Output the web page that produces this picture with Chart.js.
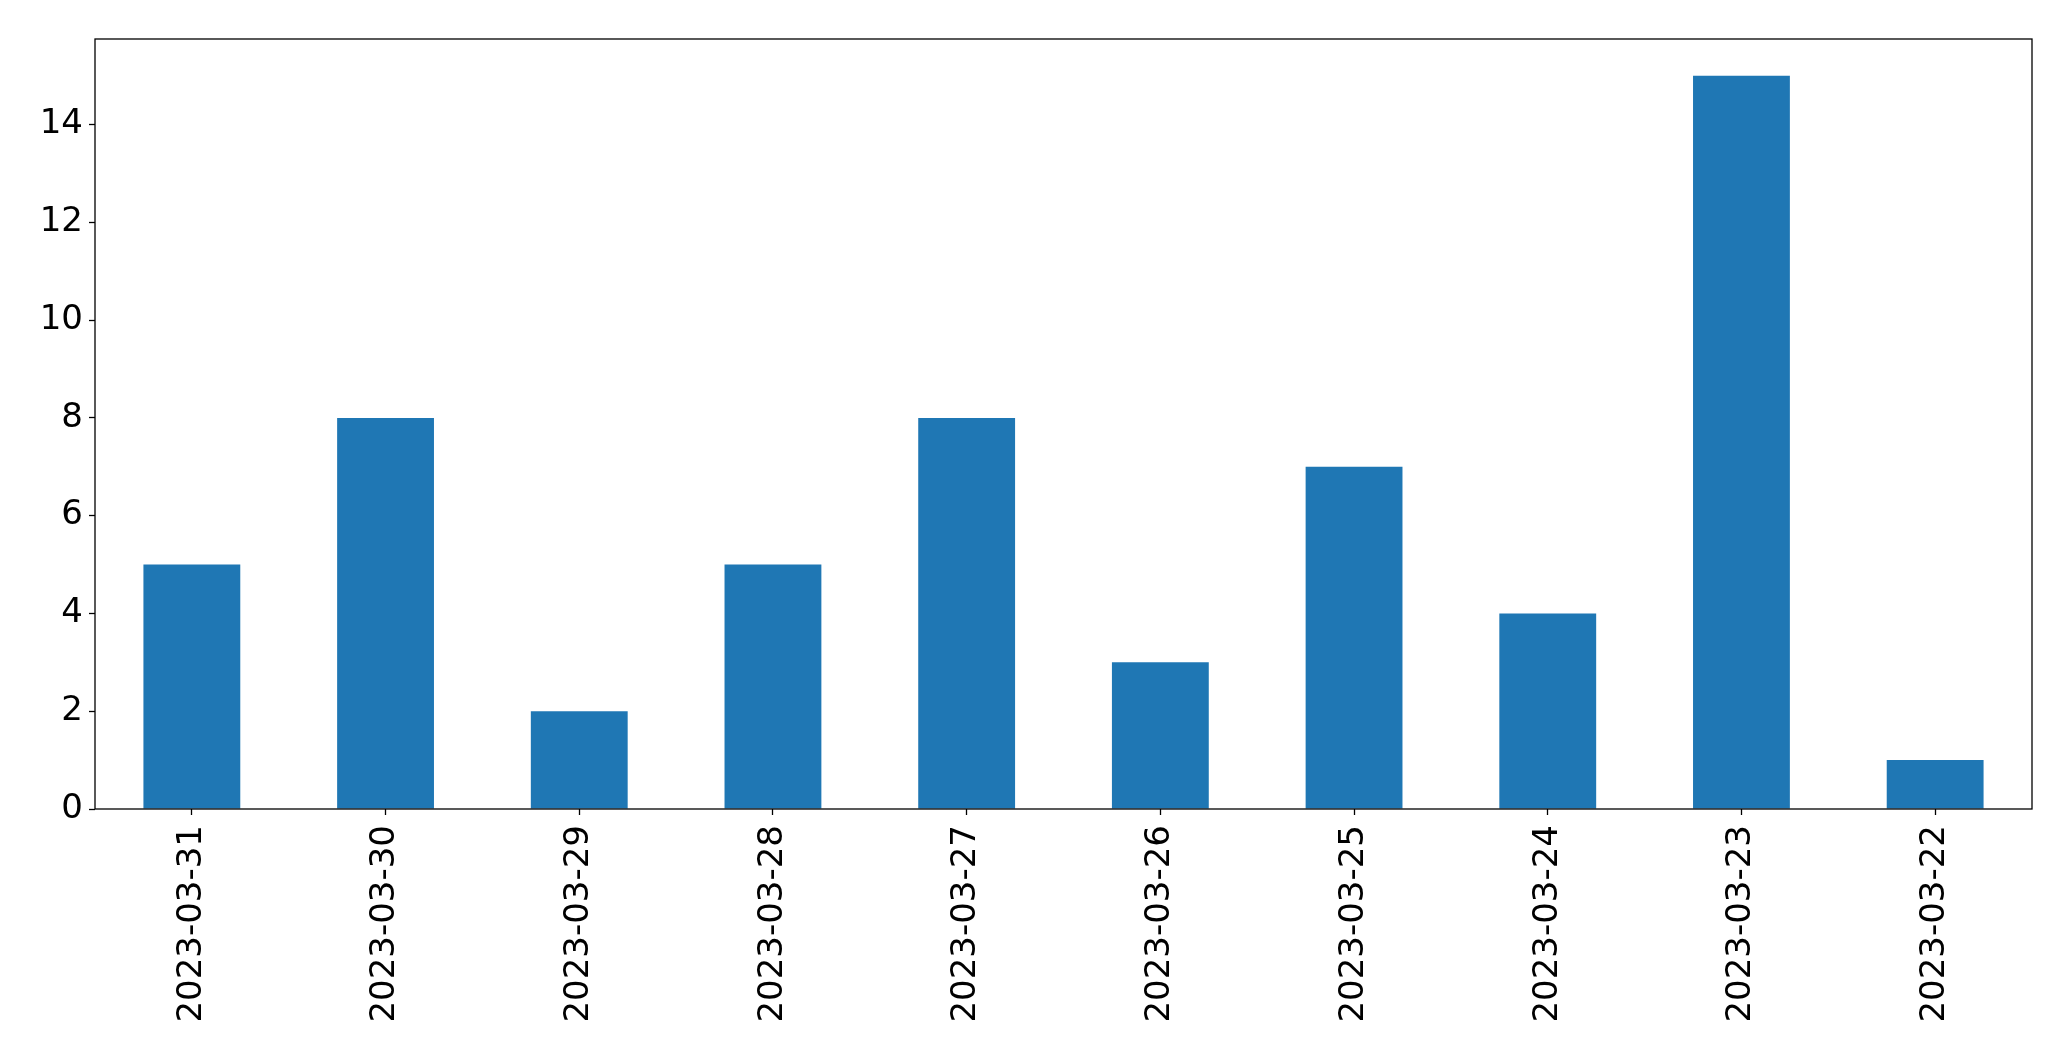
<!DOCTYPE html>
<html>
<head>
<meta charset="utf-8">
<script src="https://cdn.jsdelivr.net/npm/chart.js@4"></script>
<style>
  html, body { margin: 0; padding: 0; background: #fff; }
  canvas { display: block; }
</style>
</head>
<body>
<canvas id="chart" width="2071" height="1061"></canvas>
<script>
const dates = ['2023-03-31', '2023-03-30', '2023-03-29', '2023-03-28', '2023-03-27',
  '2023-03-26', '2023-03-25', '2023-03-24', '2023-03-23', '2023-03-22'];
const counts = [5, 8, 2, 5, 8, 3, 7, 4, 15, 1];
const yMax = 15.75;

// frame round the plot area, like matplotlib spines
const frame = {
  id: 'frame',
  afterDraw(chart) {
    const { ctx, chartArea: a } = chart;
    ctx.save();
    ctx.strokeStyle = '#000';
    ctx.lineWidth = 1.3;
    ctx.strokeRect(a.left, a.top, a.right - a.left, a.bottom - a.top);
    ctx.restore();
  }
};

const fontSpec = { family: '"DejaVu Sans", sans-serif', size: 34 };

new Chart(document.getElementById('chart'), {
  type: 'bar',
  data: {
    labels: dates,
    datasets: [{
      data: counts,
      backgroundColor: '#1f77b4',
      borderWidth: 0,
      categoryPercentage: 0.5,
      barPercentage: 1.0
    }]
  },
  options: {
    responsive: false,
    devicePixelRatio: 1,
    animation: false,
    layout: { padding: { top: 39, right: 39, left: 0, bottom: 0 } },
    plugins: { legend: { display: false }, tooltip: { enabled: false } },
    scales: {
      x: {
        offset: true,
        grid: { display: true, offset: false, drawOnChartArea: false, drawTicks: true, tickLength: 6, color: '#000', tickWidth: 1.3 },
        border: { display: false },
        ticks: { color: '#000', font: fontSpec, maxRotation: 90, minRotation: 90, padding: 10, autoSkip: false },
        afterFit(scale) { scale.height = 1061 - 809; }
      },
      y: {
        min: 0,
        max: yMax,
        grid: { display: true, drawOnChartArea: false, drawTicks: true, tickLength: 6, color: '#000', tickWidth: 1.3 },
        border: { display: false },
        ticks: { color: '#000', font: fontSpec, stepSize: 2, includeBounds: false, padding: 6 },
        afterFit(scale) { scale.width = 95; }
      }
    }
  },
  plugins: [frame]
});
</script>
</body>
</html>
